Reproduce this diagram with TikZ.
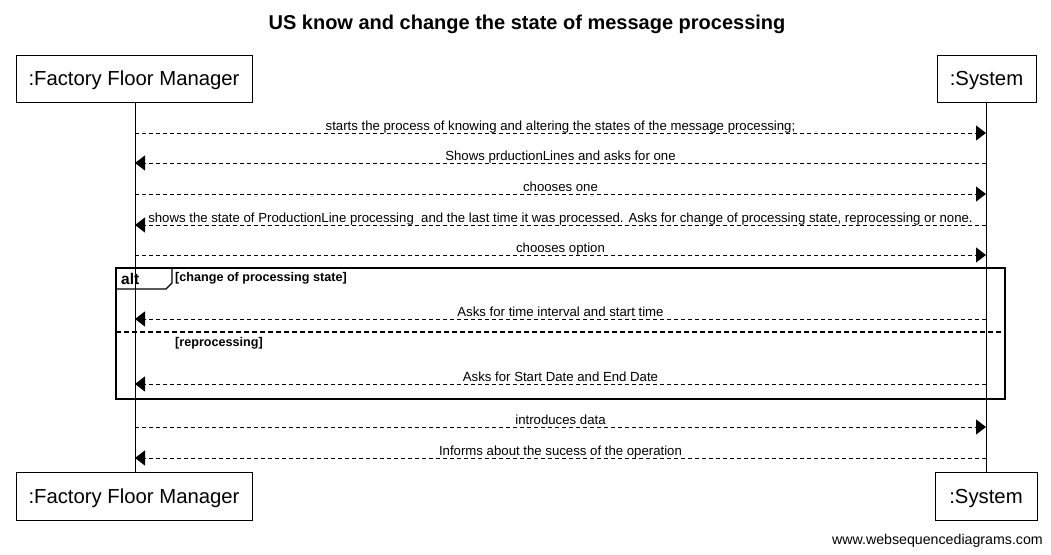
\documentclass[tikz,border=0pt]{standalone}
\usepackage{fontspec}
\setmainfont{Liberation Sans}
\usetikzlibrary{arrows.meta}
\begin{document}
\begin{tikzpicture}[x=1pt,y=-1pt,
  actor/.style={draw=black,line width=1pt,fill=white,inner sep=0pt,text height=14.7pt,text depth=0pt,font=\fontsize{20.3}{24}\selectfont},
  msg/.style={draw=black,line width=0.9pt,dash pattern=on 4pt off 3pt,-{Triangle[length=10pt,width=15pt]}},
  msglabel/.style={anchor=base,inner sep=0pt,font=\fontsize{13.2}{15}\selectfont},
  lifeline/.style={draw=black,line width=1pt},
  frame/.style={draw=black,line width=1.6pt},
  guard/.style={anchor=base west,inner sep=0pt,font=\bfseries\fontsize{12.6}{14}\selectfont}]
\useasboundingbox (0,0) rectangle (1051,554);
% title
\node[inner sep=0pt,anchor=base,font=\bfseries\fontsize{20}{24}\selectfont] (title) at (527,29) {US know and change the state of message processing};
% actors
\node[actor,minimum width=236pt,minimum height=47pt] (mgrTop) at (134,78.5) {:Factory Floor Manager};
\node[actor,minimum width=99pt,minimum height=47pt] (sysTop) at (986.5,78.5) {:System};
\node[actor,minimum width=236pt,minimum height=48pt] (mgrBot) at (134,496) {:Factory Floor Manager};
\node[actor,minimum width=102pt,minimum height=48pt] (sysBot) at (986,496) {:System};
% lifelines
\draw[lifeline] (mgrTop.south -| 135,0) -- (mgrBot.north -| 135,0);
\draw[lifeline] (sysTop.south -| 986,0) -- (sysBot.north -| 986,0);
% alt frame
\draw[frame] (116,268) rectangle (1005,399);
\coordinate (tabA) at (116,289);
\coordinate (tabB) at (166,289);
\coordinate (tabC) at (172,283);
\coordinate (tabD) at (172,268);
\draw[line width=1.2pt] (tabA) -- (tabB) -- (tabC) -- (tabD);
\node[anchor=base west,inner sep=0pt,font=\bfseries\fontsize{15.5}{18}\selectfont] (altlbl) at (121,284) {alt};
\node[guard] (g1) at (175,281) {[change of processing state]};
\node[guard] (g2) at (175,346) {[reprocessing]};
\coordinate (sepL) at (116,332);
\coordinate (sepR) at (1005,332);
\draw[line width=1.6pt,dash pattern=on 5pt off 3pt] (sepL) -- (sepR);
% message endpoints
\foreach \i/\y in {1/133,2/163,3/194,4/225,5/255,6/319,7/384,8/427,9/458}{
  \coordinate (L\i) at (135,\y);
  \coordinate (R\i) at (986,\y);
}
\draw[msg] (L1) -- (R1);
\node[msglabel] (t1) at (560.5,130) {starts the process of knowing and altering the states of the message processing;};
\draw[msg] (R2) -- (L2);
\node[msglabel] (t2) at (560.5,160) {Shows prductionLines and asks for one};
\draw[msg] (L3) -- (R3);
\node[msglabel] (t3) at (560.5,191) {chooses one};
\draw[msg] (R4) -- (L4);
\node[msglabel] (t4) at (560.5,222) {shows the state of ProductionLine processing\ \ and the last time it was processed. Asks for change of processing state, reprocessing or none.};
\draw[msg] (L5) -- (R5);
\node[msglabel] (t5) at (560.5,252) {chooses option};
\draw[msg] (R6) -- (L6);
\node[msglabel] (t6) at (560.5,316) {Asks for time interval and start time};
\draw[msg] (R7) -- (L7);
\node[msglabel] (t7) at (560.5,381) {Asks for Start Date and End Date};
\draw[msg] (L8) -- (R8);
\node[msglabel] (t8) at (560.5,424) {introduces data};
\draw[msg] (R9) -- (L9);
\node[msglabel] (t9) at (560.5,455) {Informs about the sucess of the operation};
% watermark
\node[anchor=base east,inner sep=0pt,font=\fontsize{14.2}{16}\selectfont] (wm) at (1043,544) {www.websequencediagrams.com};
\end{tikzpicture}
\end{document}
